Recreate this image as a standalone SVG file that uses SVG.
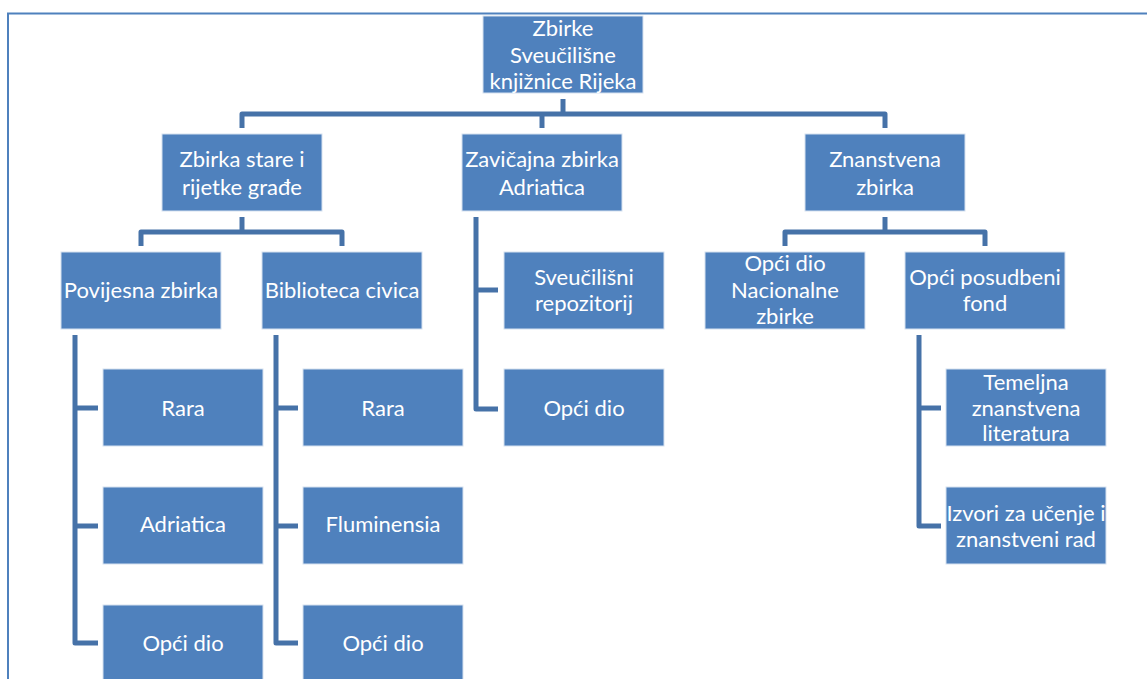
<svg xmlns="http://www.w3.org/2000/svg" width="1147" height="679" viewBox="0 0 1147 679">
<style>
.box{fill:#4F81BD;stroke:#D6E1F0;stroke-width:1}
.t{font-family:Lato,"Liberation Sans",sans-serif;font-size:22px;fill:#FFFFFF;text-anchor:middle}
.c{fill:none;stroke:#4672A8;stroke-width:5;stroke-linejoin:round;stroke-linecap:butt}
</style>
<rect x="0" y="0" width="1147" height="679" fill="#FFFFFF"/>
<rect x="8" y="13.5" width="1170" height="700" fill="none" stroke="#4F81BD" stroke-width="2"/>
<g id="connectors">
<path class="c" d="M563 99V114"/>
<path class="c" d="M242 128V114H885V128"/>
<path class="c" d="M542 114V128"/>
<path class="c" d="M242 217V232"/>
<path class="c" d="M141 246V232H342V246"/>
<path class="c" d="M885 217V232"/>
<path class="c" d="M785 246V232H985V246"/>
<path class="c" d="M75 335V643H98"/>
<path class="c" d="M75 408H98M75 526H98"/>
<path class="c" d="M276 335V643H298"/>
<path class="c" d="M276 408H298M276 526H298"/>
<path class="c" d="M476 217V409H498"/>
<path class="c" d="M476 290H498"/>
<path class="c" d="M919 335V526H941"/>
<path class="c" d="M919 408H941"/>
</g>
<g id="root"><rect class="box" x="483" y="16" width="160" height="77"/>
<text class="t" x="563" y="36">Zbirke</text><text class="t" x="563" y="63">Sveučilišne</text><text class="t" x="563" y="89">knjižnice Rijeka</text></g>
<g id="stara"><rect class="box" x="162" y="134" width="160" height="77"/>
<text class="t" x="242" y="167">Zbirka stare i</text><text class="t" x="242" y="195">rijetke građe</text></g>
<g id="zavicajna"><rect class="box" x="462" y="134" width="160" height="77"/>
<text class="t" x="542" y="167">Zavičajna zbirka</text><text class="t" x="542" y="195">Adriatica</text></g>
<g id="znanstvena"><rect class="box" x="805" y="134" width="160" height="77"/>
<text class="t" x="885" y="167">Znanstvena</text><text class="t" x="885" y="195">zbirka</text></g>
<g id="povijesna"><rect class="box" x="61" y="252" width="160" height="77"/>
<text class="t" x="141" y="298">Povijesna zbirka</text></g>
<g id="biblioteca"><rect class="box" x="262" y="252" width="160" height="77"/>
<text class="t" x="342" y="298">Biblioteca civica</text></g>
<g id="repozitorij"><rect class="box" x="504" y="252" width="160" height="77"/>
<text class="t" x="584" y="285">Sveučilišni</text><text class="t" x="584" y="311">repozitorij</text></g>
<g id="nacionalne"><rect class="box" x="705" y="252" width="160" height="77"/>
<text class="t" x="785" y="271">Opći dio</text><text class="t" x="785" y="298">Nacionalne</text><text class="t" x="785" y="324">zbirke</text></g>
<g id="posudbeni"><rect class="box" x="905" y="252" width="160" height="77"/>
<text class="t" x="985" y="285">Opći posudbeni</text><text class="t" x="985" y="311">fond</text></g>
<g id="p-rara"><rect class="box" x="103" y="369" width="160" height="77"/>
<text class="t" x="183" y="416">Rara</text></g>
<g id="p-adriatica"><rect class="box" x="103" y="487" width="160" height="77"/>
<text class="t" x="183" y="532">Adriatica</text></g>
<g id="p-opci"><rect class="box" x="103" y="605" width="160" height="77"/>
<text class="t" x="183" y="651">Opći dio</text></g>
<g id="b-rara"><rect class="box" x="303" y="369" width="160" height="77"/>
<text class="t" x="383" y="416">Rara</text></g>
<g id="b-fluminensia"><rect class="box" x="303" y="487" width="160" height="77"/>
<text class="t" x="383" y="532">Fluminensia</text></g>
<g id="b-opci"><rect class="box" x="303" y="605" width="160" height="77"/>
<text class="t" x="383" y="651">Opći dio</text></g>
<g id="z-opci"><rect class="box" x="504" y="369" width="160" height="77"/>
<text class="t" x="584" y="416">Opći dio</text></g>
<g id="temeljna"><rect class="box" x="946" y="369" width="160" height="77"/>
<text class="t" x="1026" y="390">Temeljna</text><text class="t" x="1026" y="416">znanstvena</text><text class="t" x="1026" y="441">literatura</text></g>
<g id="izvori"><rect class="box" x="946" y="487" width="160" height="77"/>
<text class="t" x="1026" y="521">Izvori za učenje i</text><text class="t" x="1026" y="547">znanstveni rad</text></g>
</svg>
